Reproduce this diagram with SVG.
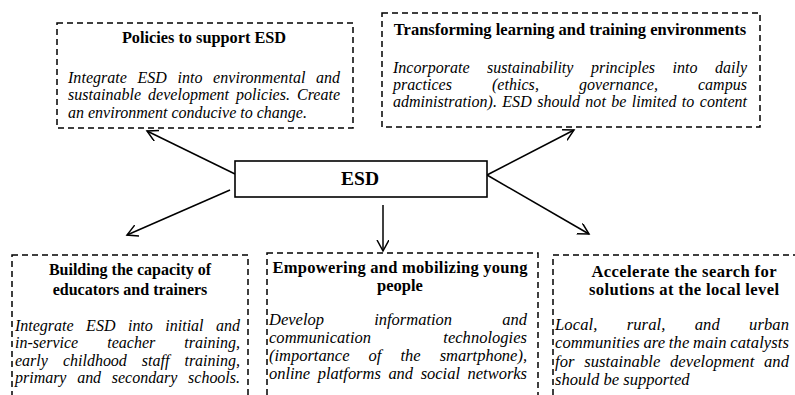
<svg xmlns="http://www.w3.org/2000/svg" width="795" height="395" viewBox="0 0 795 395">
<style>
.box{fill:#fff;stroke:#000;stroke-width:1.5;stroke-dasharray:6 4}
.core{fill:#fff;stroke:#000;stroke-width:1.6}
.t{font-family:"Liberation Serif","Times New Roman",serif;font-weight:bold;text-anchor:middle;fill:#000}
.b{font-family:"Liberation Serif","Times New Roman",serif;font-style:italic;fill:#000}
.c{fill:none;stroke:#000;stroke-width:1.5}
</style>
<defs>
<marker id="ah" markerUnits="userSpaceOnUse" markerWidth="14" markerHeight="14" refX="11" refY="6" orient="auto">
<path d="M0,0 L11,6 L0,12" fill="none" stroke="#000" stroke-width="1.5"/>
</marker>
</defs>
<rect width="795" height="395" fill="#fff"/>

<g id="connectors">
<line class="c" x1="235" y1="174" x2="147" y2="131" marker-end="url(#ah)"/>
<line class="c" x1="487" y1="175" x2="574" y2="130" marker-end="url(#ah)"/>
<line class="c" x1="230" y1="190" x2="127" y2="235" marker-end="url(#ah)"/>
<line class="c" x1="383" y1="205" x2="383" y2="251" marker-end="url(#ah)"/>
<line class="c" x1="487" y1="175" x2="589" y2="234" marker-end="url(#ah)"/>
</g>

<g id="esd">
<rect class="core" x="235" y="161" width="252" height="36"/>
<text class="t" x="360" y="185" font-size="19" textLength="38" lengthAdjust="spacingAndGlyphs">ESD</text>
</g>

<g id="policies">
<rect class="box" x="57" y="23" width="296" height="105"/>
<text class="t" x="204" y="43" font-size="16.3">Policies to support ESD</text>
<g class="b" font-size="16">
<text x="68" y="83" word-spacing="6.5" textLength="272" lengthAdjust="spacing">Integrate ESD into environmental and</text>
<text x="68" y="100" word-spacing="3" textLength="272" lengthAdjust="spacing">sustainable development policies. Create</text>
<text x="68" y="118">an environment conducive to change.</text>
</g>
</g>

<g id="transforming">
<rect class="box" x="382" y="13" width="378" height="114"/>
<text class="t" x="570" y="35" font-size="16.5">Transforming learning and training environments</text>
<g class="b" font-size="16">
<text x="393" y="73" word-spacing="13.5" textLength="354" lengthAdjust="spacing">Incorporate sustainability principles into daily</text>
<text x="393" y="90" word-spacing="36" textLength="354" lengthAdjust="spacing">practices (ethics, governance, campus</text>
<text x="393" y="107" word-spacing="1.4" textLength="354" lengthAdjust="spacing">administration). ESD should not be limited to content</text>
</g>
</g>

<g id="capacity">
<rect class="box" x="12" y="255" width="236" height="150"/>
<text class="t" x="130" y="275" font-size="16">Building the capacity of</text>
<text class="t" x="130" y="295" font-size="16">educators and trainers</text>
<g class="b" font-size="16">
<text x="15" y="331" word-spacing="8.5" textLength="225" lengthAdjust="spacing">Integrate ESD into initial and</text>
<text x="15" y="348" word-spacing="25" textLength="225" lengthAdjust="spacing">in-service teacher training,</text>
<text x="15" y="366" word-spacing="11" textLength="225" lengthAdjust="spacing">early childhood staff training,</text>
<text x="15" y="383" word-spacing="6.7" textLength="225" lengthAdjust="spacing">primary and secondary schools.</text>
</g>
</g>

<g id="empowering">
<rect class="box" x="267" y="253" width="271" height="150"/>
<text class="t" x="400" y="273" font-size="16.5" textLength="255" lengthAdjust="spacing">Empowering and mobilizing young</text>
<text class="t" x="400" y="291" font-size="16.5">people</text>
<g class="b" font-size="16.5">
<text x="269" y="325" word-spacing="46" textLength="258" lengthAdjust="spacing">Develop information and</text>
<text x="269" y="343" word-spacing="68" textLength="258" lengthAdjust="spacing">communication technologies</text>
<text x="269" y="361" word-spacing="15" textLength="258" lengthAdjust="spacing">(importance of the smartphone),</text>
<text x="269" y="379" word-spacing="3.5" textLength="258" lengthAdjust="spacing">online platforms and social networks</text>
</g>
</g>

<g id="accelerate">
<rect class="box" x="553" y="255" width="245" height="150"/>
<text class="t" x="684" y="277" font-size="16.6" textLength="185" lengthAdjust="spacing">Accelerate the search for</text>
<text class="t" x="684" y="295" font-size="16.6" textLength="190" lengthAdjust="spacing">solutions at the local level</text>
<g class="b" font-size="16.6">
<text x="555" y="330" word-spacing="25" textLength="234" lengthAdjust="spacing">Local, rural, and urban</text>
<text x="555" y="348" word-spacing="-0.5" textLength="234" lengthAdjust="spacing">communities are the main catalysts</text>
<text x="555" y="367" word-spacing="5.5" textLength="234" lengthAdjust="spacing">for sustainable development and</text>
<text x="555" y="385">should be supported</text>
</g>
</g>
</svg>
